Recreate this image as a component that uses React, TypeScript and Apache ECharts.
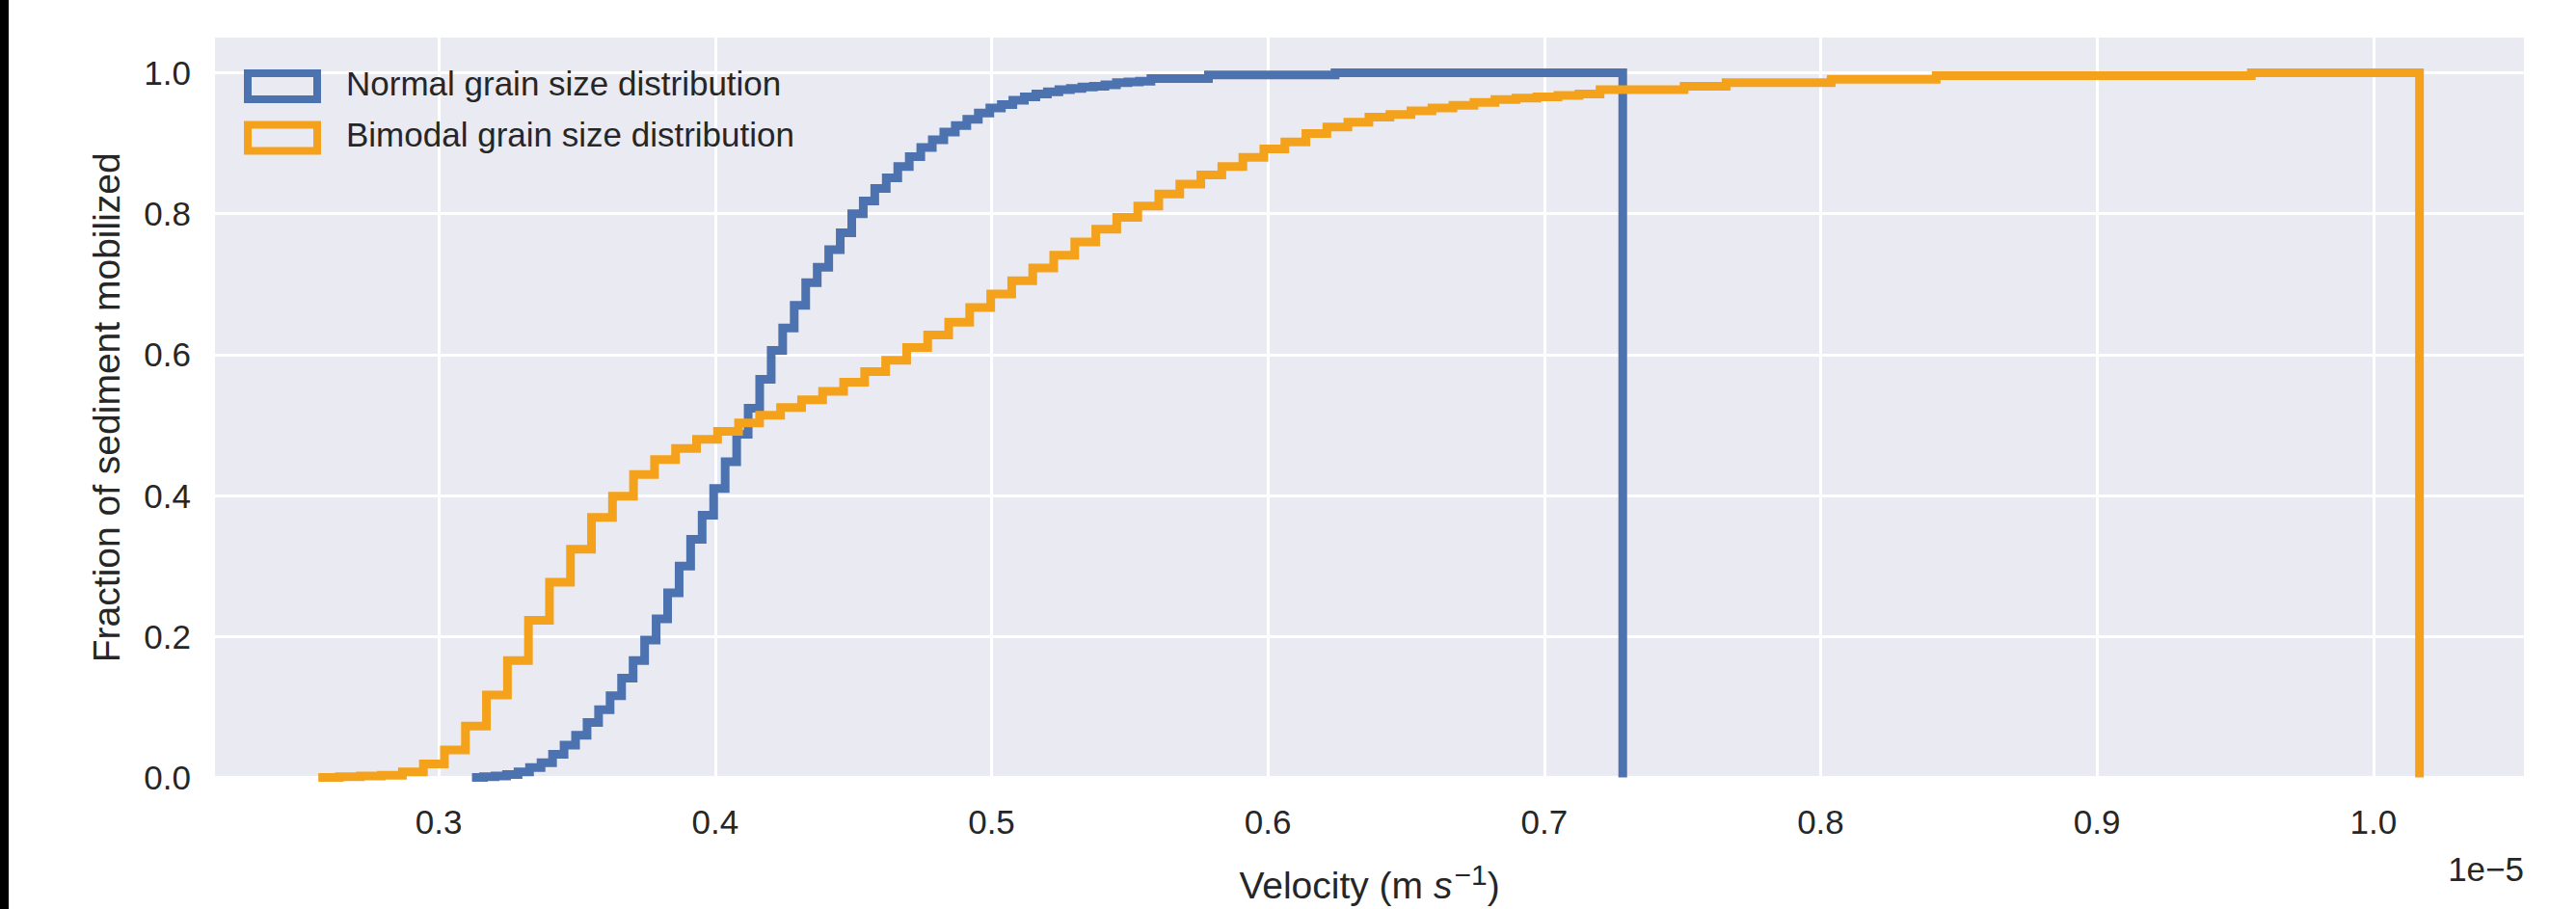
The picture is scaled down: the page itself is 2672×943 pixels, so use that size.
import React, { useEffect, useRef } from "react";
import * as echarts from "echarts";

// Velocity values are in units of 1e-5 m/s (axis offset text "1e−5").
// Each histogram: 100 equal-width bins spanning the given range, cumulative, normalised.
const normalBinRange = [0.312, 0.7284];
const bimodalBinRange = [0.2564, 1.0167];

const normalCumulative = [
  0.0, 0.001, 0.002, 0.004, 0.008, 0.014, 0.021, 0.033, 0.046, 0.06,
  0.078, 0.096, 0.116, 0.141, 0.166, 0.195, 0.225, 0.262, 0.3, 0.338,
  0.372, 0.41, 0.448, 0.487, 0.524, 0.565, 0.606, 0.638, 0.67, 0.702,
  0.724, 0.749, 0.773, 0.8, 0.818, 0.836, 0.851, 0.867, 0.881, 0.894,
  0.905, 0.916, 0.925, 0.934, 0.943, 0.95, 0.955, 0.961, 0.966, 0.97,
  0.973, 0.976, 0.978, 0.98, 0.981, 0.983, 0.986, 0.987, 0.988, 0.992,
  0.992, 0.992, 0.992, 0.992, 0.997, 0.997, 0.997, 0.997, 0.997, 0.997,
  0.997, 0.997, 0.997, 0.997, 0.997, 1.0, 1.0, 1.0, 1.0, 1.0,
  1.0, 1.0, 1.0, 1.0, 1.0, 1.0, 1.0, 1.0, 1.0, 1.0,
  1.0, 1.0, 1.0, 1.0, 1.0, 1.0, 1.0, 1.0, 1.0, 1.0,
];

const bimodalCumulative = [
  0.0, 0.001, 0.002, 0.003, 0.008, 0.019, 0.039, 0.073, 0.117, 0.166,
  0.223, 0.277, 0.324, 0.369, 0.399, 0.43, 0.451, 0.467, 0.48, 0.491,
  0.503, 0.514, 0.525, 0.536, 0.548, 0.561, 0.576, 0.592, 0.61, 0.628,
  0.646, 0.667, 0.686, 0.705, 0.723, 0.741, 0.76, 0.778, 0.795, 0.811,
  0.828, 0.842, 0.855, 0.867, 0.88, 0.892, 0.902, 0.914, 0.923, 0.93,
  0.937, 0.941, 0.946, 0.95, 0.954, 0.958, 0.962, 0.964, 0.966, 0.968,
  0.97, 0.976, 0.976, 0.976, 0.976, 0.981, 0.981, 0.986, 0.986, 0.986,
  0.986, 0.986, 0.991, 0.991, 0.991, 0.991, 0.991, 0.996, 0.996, 0.996,
  0.996, 0.996, 0.996, 0.996, 0.996, 0.996, 0.996, 0.996, 0.996, 0.996,
  0.996, 0.996, 1.0, 1.0, 1.0, 1.0, 1.0, 1.0, 1.0, 1.0,
];

const seriesNames = ["Normal grain size distribution", "Bimodal grain size distribution"];
const seriesColors = ["#4C72B0", "#F4A21C"];
const yAxisTitle = "Fraction of sediment mobilized";
const offsetText = "1e\u22125";

const FONT = "'Liberation Sans', Arial, 'DejaVu Sans', sans-serif";
const TEXT = "#262626";

function stepOutline(range: number[], cum: number[]) {
  const n = cum.length;
  const edge = (i: number) => range[0] + ((range[1] - range[0]) * i) / n;
  const pts: number[][] = [[edge(0), 0]];
  for (let i = 0; i < n; i++) {
    pts.push([edge(i), cum[i]]);
    pts.push([edge(i + 1), cum[i]]);
  }
  pts.push([edge(n), 0]);
  return pts;
}

export default function App() {
  const ref = useRef<HTMLDivElement>(null);

  useEffect(() => {
    if (!ref.current) return;
    const chart = echarts.init(ref.current, null, { renderer: "svg" });
    const lineW = 9;
    const legendRow = (i: number) => ({
      rectY: 76 + i * 53.5,
      textY: 86 + i * 53,
    });
    const option: any = {
      animation: false,
      backgroundColor: "#ffffff",
      textStyle: { fontFamily: FONT },
      grid: {
        left: 223,
        right: 54,
        top: 39,
        bottom: 129,
        show: true,
        backgroundColor: "#EAEAF2",
        borderWidth: 0,
      },
      xAxis: {
        type: "value",
        min: 0.219,
        max: 1.0545,
        splitNumber: 8,
        minInterval: 0.1,
        maxInterval: 0.1,
        axisLine: { show: false },
        axisTick: { show: false },
        splitLine: {
          show: true,
          showMinLine: false,
          showMaxLine: false,
          lineStyle: { color: "#ffffff", width: 3 },
        },
        axisLabel: {
          showMinLabel: false,
          showMaxLabel: false,
          formatter: (v: number) => v.toFixed(1),
          fontSize: 35,
          color: TEXT,
          fontFamily: FONT,
          margin: 28,
        },
        name: "{n|Velocity (m }{i|s}{s|\u22121}{n|)}",
        nameLocation: "middle",
        nameGap: 86,
        nameTextStyle: {
          rich: {
            n: { fontSize: 39, color: TEXT, fontFamily: FONT },
            i: { fontSize: 39, color: TEXT, fontFamily: FONT, fontStyle: "italic" },
            s: { fontSize: 30, color: TEXT, fontFamily: FONT, padding: [0, 0, 22, 2] },
          },
        },
      },
      yAxis: {
        type: "value",
        min: 0,
        max: 1.05,
        interval: 0.2,
        axisLine: { show: false },
        axisTick: { show: false },
        splitLine: {
          show: true,
          showMaxLine: false,
          lineStyle: { color: "#ffffff", width: 3 },
        },
        axisLabel: {
          showMaxLabel: false,
          formatter: (v: number) => v.toFixed(1),
          fontSize: 35,
          color: TEXT,
          fontFamily: FONT,
          margin: 25,
        },
        name: yAxisTitle,
        nameLocation: "middle",
        nameGap: 93,
        nameTextStyle: { fontSize: 39, color: TEXT, fontFamily: FONT },
      },
      series: [
        {
          type: "line",
          name: seriesNames[0],
          data: stepOutline(normalBinRange, normalCumulative),
          symbol: "none",
          showSymbol: false,
          silent: true,
          z: 2,
          lineStyle: { color: seriesColors[0], width: lineW, join: "miter", cap: "butt" },
          itemStyle: { color: seriesColors[0] },
        },
        {
          type: "line",
          name: seriesNames[1],
          data: stepOutline(bimodalBinRange, bimodalCumulative),
          symbol: "none",
          showSymbol: false,
          silent: true,
          z: 3,
          lineStyle: { color: seriesColors[1], width: lineW, join: "miter", cap: "butt" },
          itemStyle: { color: seriesColors[1] },
        },
      ],
      graphic: [
        {
          type: "rect",
          left: 0,
          top: 0,
          shape: { width: 9, height: 943 },
          style: { fill: "#000000" },
          silent: true,
        },
        ...seriesNames.flatMap((name, i) => [
          {
            type: "rect",
            x: 257,
            y: legendRow(i).rectY,
            shape: { width: 72, height: 27 },
            style: { fill: "none", stroke: seriesColors[i], lineWidth: 8 },
            z: 10,
          },
          {
            type: "text",
            x: 359,
            y: legendRow(i).textY,
            style: {
              text: name,
              fontSize: 35,
              fontFamily: FONT,
              fill: TEXT,
              verticalAlign: "middle",
            },
            z: 10,
          },
        ]),
        {
          type: "text",
          x: 2618,
          y: 901,
          style: {
            text: offsetText,
            fontSize: 35,
            fontFamily: FONT,
            fill: TEXT,
            align: "right",
            verticalAlign: "middle",
          },
        },
      ],
    };
    chart.setOption(option);
    return () => chart.dispose();
  }, []);

  return (
    <div
      ref={ref}
      style={{ position: "fixed", left: 0, top: 0, width: 2672, height: 943 }}
    />
  );
}
